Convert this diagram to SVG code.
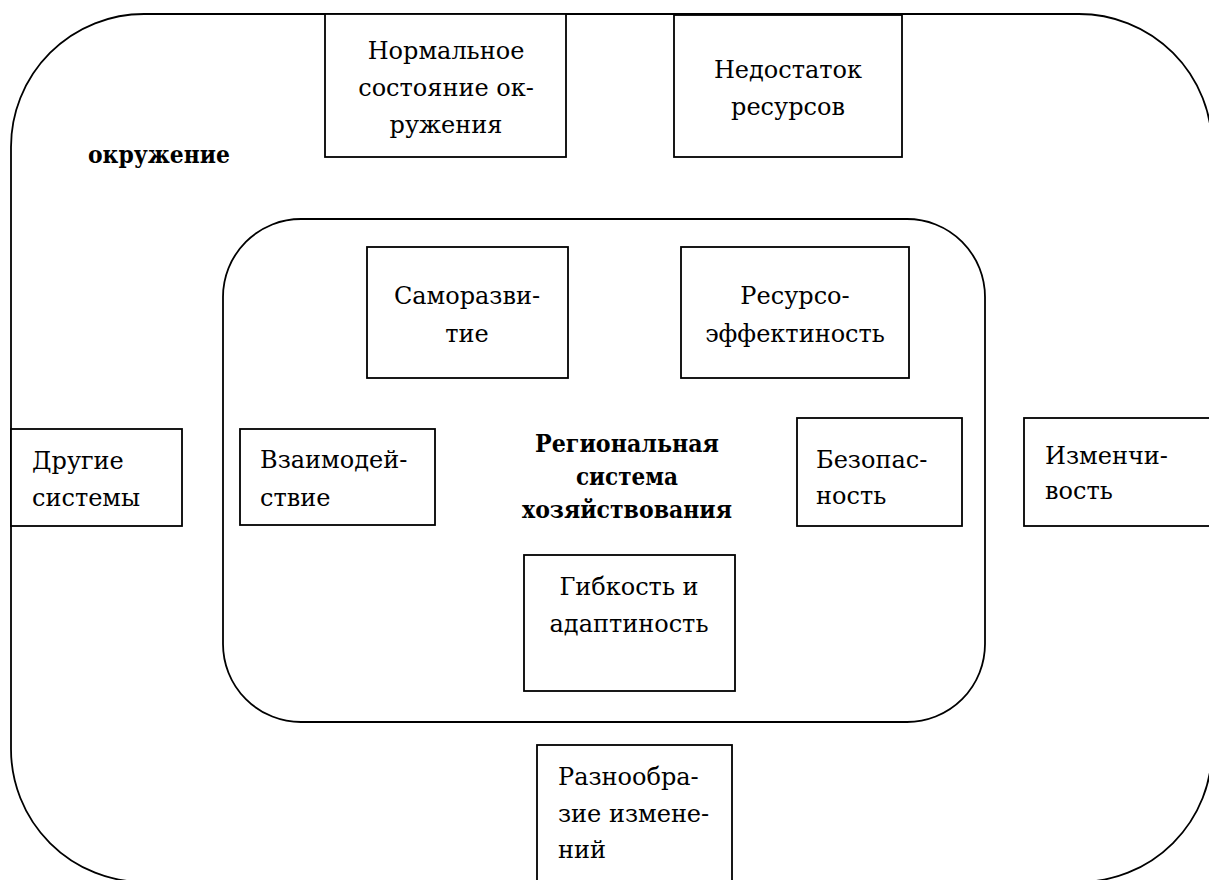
<svg xmlns="http://www.w3.org/2000/svg" width="1209" height="880" viewBox="0 0 1209 880" font-family="'DejaVu Serif', serif" font-size="24">
<style>
  .frame { fill: none; stroke: #000; stroke-width: 1.8; }
  .box { fill: #fff; stroke: #000; stroke-width: 1.8; }
  .c { text-anchor: middle; }
  .b { font-weight: bold; font-size: 25px; }
</style>
<rect width="1209" height="880" fill="#fff"/>
<g id="environment">
  <rect class="frame" x="11" y="14" width="1201" height="868" rx="133" ry="133"/>
  <text class="b" x="88" y="163" textLength="142" lengthAdjust="spacingAndGlyphs">окружение</text>
</g>
<g id="regional-system">
  <rect class="frame" x="223" y="219" width="762" height="503" rx="78" ry="78"/>
  <text class="b c" x="627" y="452" textLength="184" lengthAdjust="spacingAndGlyphs">Региональная</text>
  <text class="b c" x="627" y="485" textLength="102" lengthAdjust="spacingAndGlyphs">система</text>
  <text class="b c" x="627" y="518" textLength="210" lengthAdjust="spacingAndGlyphs">хозяйствования</text>
</g>
<g id="connectors"></g>
<g id="normal-state">
  <rect class="box" x="325" y="14" width="241" height="143"/>
  <text class="c" x="446" y="59">Нормальное</text>
  <text class="c" x="446" y="96">состояние ок-</text>
  <text class="c" x="446" y="133">ружения</text>
</g>
<g id="resource-shortage">
  <rect class="box" x="674" y="15" width="228" height="142"/>
  <text class="c" x="788" y="78">Недостаток</text>
  <text class="c" x="788" y="115">ресурсов</text>
</g>
<g id="self-development">
  <rect class="box" x="367" y="247" width="201" height="131"/>
  <text class="c" x="467" y="304">Саморазви-</text>
  <text class="c" x="467" y="342">тие</text>
</g>
<g id="resource-efficiency">
  <rect class="box" x="681" y="247" width="228" height="131"/>
  <text class="c" x="795" y="304">Ресурсо-</text>
  <text class="c" x="795" y="342">эффектиность</text>
</g>
<g id="other-systems">
  <rect class="box" x="11" y="429" width="171" height="97"/>
  <text x="32" y="469">Другие</text>
  <text x="32" y="506">системы</text>
</g>
<g id="interaction">
  <rect class="box" x="240" y="429" width="195" height="96"/>
  <text x="260" y="468">Взаимодей-</text>
  <text x="260" y="506">ствие</text>
</g>
<g id="safety">
  <rect class="box" x="797" y="418" width="165" height="108"/>
  <text x="816" y="468">Безопас-</text>
  <text x="816" y="504">ность</text>
</g>
<g id="variability">
  <rect class="box" x="1024" y="418" width="195" height="108"/>
  <text x="1045" y="464">Изменчи-</text>
  <text x="1045" y="499">вость</text>
</g>
<g id="flexibility">
  <rect class="box" x="524" y="555" width="211" height="136"/>
  <text class="c" x="629" y="595">Гибкость и</text>
  <text class="c" x="629" y="632">адаптиность</text>
</g>
<g id="diversity">
  <rect class="box" x="537" y="745" width="195" height="145"/>
  <text x="558" y="785">Разнообра-</text>
  <text x="558" y="822">зие измене-</text>
  <text x="558" y="858">ний</text>
</g>
</svg>
